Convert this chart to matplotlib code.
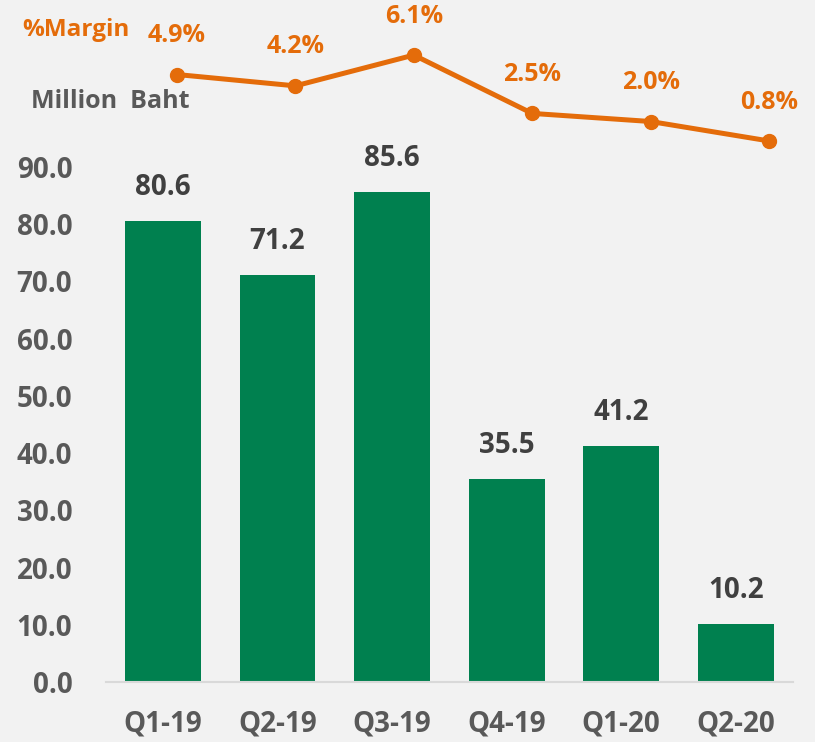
import matplotlib.pyplot as plt

plt.rcParams['font.family'] = ['Open Sans', 'DejaVu Sans']
plt.rcParams['font.weight'] = 'bold'

# Data
quarters = ['Q1-19', 'Q2-19', 'Q3-19', 'Q4-19', 'Q1-20', 'Q2-20']
profit = [80.6, 71.2, 85.6, 35.5, 41.2, 10.2]
margin = [4.9, 4.2, 6.1, 2.5, 2.0, 0.8]
yticks = [0, 10, 20, 30, 40, 50, 60, 70, 80, 90]

green = '#00804F'
orange = '#E46C0A'
grey = '#595959'
bg = '#F2F2F2'

W, H = 815, 742
fig = plt.figure(figsize=(W / 100, H / 100), dpi=100, facecolor=bg)

# bar axes: value 0 at y=682px, 90 at y=167px
ax = fig.add_axes([105.7 / W, (H - 682) / H, 687.3 / W, (682 - 167) / H])
ax.set_facecolor('none')
x = range(len(quarters))
ax.bar(x, profit, width=0.663, color=green, zorder=2)
for xi, v in zip(x, profit):
    ax.annotate(f'{v:.1f}', (xi, v), xytext=(0, 24), textcoords='offset points',
                ha='center', va='center', fontsize=20, fontweight='bold', color='#404040')
ax.set_xlim(-0.5, len(quarters) - 0.5)
ax.set_ylim(0, 90)
ax.set_yticks(yticks)
ax.set_yticklabels([f'{t:.1f}' for t in yticks])
ax.set_xticks(list(x))
ax.set_xticklabels(quarters)
ax.tick_params(length=0, labelsize=20, colors=grey)
ax.tick_params(axis='y', pad=24)
ax.tick_params(axis='x', pad=20)
for lab in ax.get_xticklabels() + ax.get_yticklabels():
    lab.set_fontweight('bold')
for s in ['top', 'right', 'left']:
    ax.spines[s].set_visible(False)
ax.spines['bottom'].set_color('#D9D9D9')
ax.spines['bottom'].set_linewidth(1.5)

# margin line axes spanning full height
ax2 = fig.add_axes([117.8 / W, 0, 710.4 / W, 1])
ax2.set_facecolor('none')
ax2.axis('off')
ax2.set_xlim(-0.5, len(quarters) - 0.5)
ax2.set_ylim(-36.3, 9.5)
ax2.plot(list(x), margin, color=orange, lw=3.6, marker='o', markersize=10, zorder=3)
for xi, m in zip(x, margin):
    ax2.annotate(f'{m:.1f}%', (xi, m), xytext=(0, 28), textcoords='offset points',
                 ha='center', va='center', fontsize=18, fontweight='bold', color=orange)

fig.text(22 / W, 1 - 30 / H, '%Margin', color=orange, fontsize=17.5, fontweight='bold',
         ha='left', va='center')
fig.text(31 / W, 1 - 102 / H, 'Million  Baht', color=grey, fontsize=18, fontweight='bold',
         ha='left', va='center')

fig.savefig('out.png', dpi=100, facecolor=bg)
